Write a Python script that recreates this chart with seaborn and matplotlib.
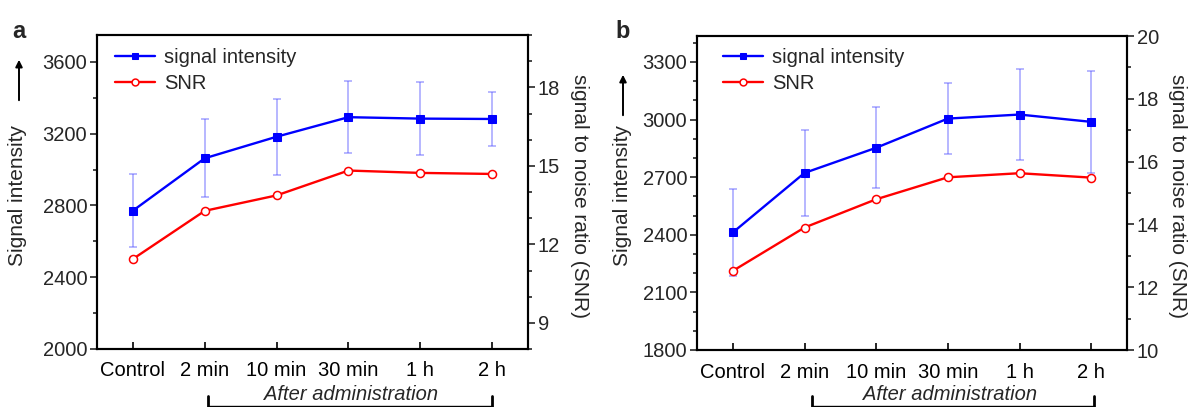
import numpy as np
import pandas as pd
import matplotlib
matplotlib.use("Agg")
import matplotlib.pyplot as plt
import seaborn as sns
from matplotlib.patches import FancyArrowPatch
from matplotlib.lines import Line2D
from matplotlib.ticker import MultipleLocator

# ---------------- data ----------------
categories = ["Control", "2 min", "10 min", "30 min", "1 h", "2 h"]

a_signal = [2771, 3063, 3183, 3292, 3284, 3282]
a_err = [205, 218, 213, 200, 203, 153]
a_snr = [11.44, 13.28, 13.87, 14.82, 14.73, 14.69]

b_signal = [2412, 2722, 2853, 3005, 3026, 2988]
b_err = [227, 226, 212, 187, 235, 265]
b_snr = [12.52, 13.90, 14.80, 15.50, 15.63, 15.49]

left_label = "Signal intensity"
right_label = "signal to noise ratio (SNR)"
legend_labels = ["signal intensity", "SNR"]
bracket_label = "After administration"
panel_labels = ["a", "b"]

# ---------------- style ----------------
sns.set_theme(style="ticks")
plt.rcParams['font.family'] = ['Liberation Sans', 'DejaVu Sans']
plt.rcParams['axes.linewidth'] = 1.5

W, H = 1190, 407
fig = plt.figure(figsize=(W / 100, H / 100), dpi=100)

FS = 14.5
FSL = 15
BLUE = "#0000ff"
RED = "#ff0000"


def fx(px):
    return px / W


def fy(py):
    return 1 - py / H


def panel(left, right, top, bottom, sig, err, snr, ylim, ymaj, ymin,
          y2lim, y2maj, y2min, leg_xy, label_x, ylab_x, arrow, ylab2_x,
          brk, brk_text_x, plabel_x):
    ax = fig.add_axes([fx(left), fy(bottom), fx(right) - fx(left), fy(top) - fy(bottom)])
    ax2 = ax.twinx()
    df = pd.DataFrame({"x": np.arange(len(categories)), "sig": sig, "err": err, "snr": snr})

    ax.errorbar(df["x"], df["sig"], yerr=df["err"], fmt="none",
                ecolor=(0.35, 0.35, 1.0, 0.55), elinewidth=1.1, capsize=3, capthick=1.1, zorder=1)
    sns.lineplot(data=df, x="x", y="sig", ax=ax, color=BLUE, linewidth=1.7,
                 marker="s", markersize=5.5, markeredgecolor=BLUE, markerfacecolor=BLUE,
                 zorder=3, label=legend_labels[0], legend=False)
    sns.lineplot(data=df, x="x", y="snr", ax=ax2, color=RED, linewidth=1.7,
                 marker="o", markersize=5.8, markeredgecolor=RED, markerfacecolor="white",
                 markeredgewidth=1.1, zorder=3, label=legend_labels[1], legend=False)

    ax.set_xlim(-0.5, 5.5)
    ax.set_ylim(*ylim)
    ax2.set_ylim(*y2lim)
    ax.set_xticks(df["x"])
    ax.set_xticklabels(categories)
    ax.yaxis.set_major_locator(MultipleLocator(ymaj))
    ax.yaxis.set_minor_locator(MultipleLocator(ymin))
    ax2.yaxis.set_major_locator(MultipleLocator(y2maj))
    ax2.yaxis.set_minor_locator(MultipleLocator(y2min))
    ax.set_xlabel("")
    ax.set_ylabel("")
    ax2.set_ylabel("")

    ax.tick_params(axis="x", direction="in", length=5, width=1.2, labelsize=FS, pad=9, colors="black")
    ax.tick_params(axis="x", which="minor", bottom=False)
    ax.tick_params(axis="y", which="major", direction="out", length=5, width=1.2, labelsize=FS, pad=2)
    ax.tick_params(axis="y", which="minor", direction="out", length=3, width=1.2)
    ax2.tick_params(axis="y", which="major", direction="out", length=5, width=1.2, labelsize=FS, pad=2)
    ax2.tick_params(axis="y", which="minor", direction="out", length=3, width=1.2)
    for a in (ax, ax2):
        for s in a.spines.values():
            s.set_visible(True)
            s.set_linewidth(1.5)
            s.set_color("black")

    h1, l1 = ax.get_legend_handles_labels()
    h2, l2 = ax2.get_legend_handles_labels()
    ax2.legend(h1 + h2, l1 + l2, loc="upper left",
               bbox_to_anchor=(fx(leg_xy[0]), fy(leg_xy[1])), bbox_transform=fig.transFigure,
               frameon=False, fontsize=FS, handlelength=2.0, handletextpad=0.45,
               borderpad=0, borderaxespad=0, labelspacing=0.35, markerscale=0.85)

    # axis labels
    fig.text(fx(ylab_x), fy(196), left_label, rotation=90, ha="center", va="center", fontsize=FSL)
    fig.add_artist(FancyArrowPatch((fx(ylab_x + 1), fy(arrow[0])), (fx(ylab_x + 1), fy(arrow[1])),
                                   transform=fig.transFigure, arrowstyle="-|>",
                                   mutation_scale=10, lw=1.4, color="black"))
    fig.text(fx(ylab2_x), fy(196), right_label, rotation=270, ha="center", va="center", fontsize=FSL)

    # bracket
    fig.text(fx(brk_text_x), fy(394), bracket_label, ha="center", va="center",
             fontsize=FS, style="italic")
    fig.add_artist(Line2D([fx(brk[0]), fx(brk[1])], [fy(405.5), fy(405.5)],
                          transform=fig.transFigure, color="black", lw=1.0))
    for bx in brk:
        fig.add_artist(Line2D([fx(bx), fx(bx)], [fy(396), fy(407)],
                              transform=fig.transFigure, color="black", lw=2.0))

    fig.text(fx(plabel_x), fy(32), label_x, ha="left", va="center", fontsize=17, fontweight="bold")
    return ax, ax2


panel(97, 528, 35, 349, a_signal, a_err, a_snr, (2000, 3750), 400, 200,
      (8, 20), 3, 1, (115, 48), panel_labels[0], 18, (103, 57), 580,
      (208, 492), 351, 12)
panel(697, 1127, 36, 350, b_signal, b_err, b_snr, (1800, 3435), 300, 100,
      (10, 20), 2, 1, (723, 48), panel_labels[1], 622, (118, 72), 1177,
      (812, 1094), 950, 615)

fig.savefig("out.png", dpi=100)
